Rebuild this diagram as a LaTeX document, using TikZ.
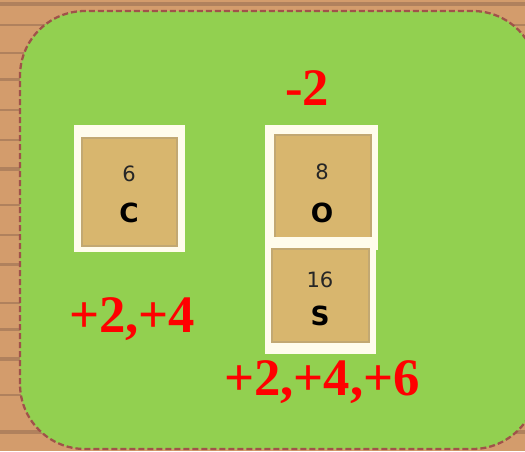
\documentclass[tikz,border=0pt]{standalone}
\usepackage{fontspec}
\setmainfont{Liberation Serif}
\newfontfamily\tilefont{DejaVu Sans}
\usepackage{xcolor}
\usepackage{tikz}
\definecolor{kwood}{HTML}{D39C6C}
\definecolor{kwooddark}{HTML}{9C6234}
\definecolor{kgreen}{HTML}{92D050}
\definecolor{kedge}{HTML}{A0524A}
\definecolor{ktan}{HTML}{D8B66E}
\definecolor{krim}{HTML}{FFFCEC}

\begin{document}
\begin{tikzpicture}[x=1cm, y=1cm,
  charge/.style={font=\fontsize{30}{31}\selectfont\bfseries, text=red, anchor=base, inner sep=0pt},
  znum/.style={font=\tilefont\fontsize{12}{13}\selectfont, text=black!85, inner sep=0pt},
  zsym/.style={font=\tilefont\fontsize{15}{16}\selectfont\bfseries, text=black, inner sep=0pt},
  face/.style={fill=ktan, draw=ktan!75!gray, line width=1pt}]
\useasboundingbox (0,0) rectangle (10.5,9.02);
\begin{scope}
\clip (0,0) rectangle (10.5,9.02);
% wooden table
\fill[kwood] (0,0) rectangle (10.5,9.02);
\foreach \y/\w in {8.90/0.08, 8.50/0.05, 7.95/0.04, 7.40/0.07, 6.80/0.04, 6.20/0.05, 5.60/0.08, 4.90/0.05, 4.30/0.04, 3.70/0.07, 2.95/0.04, 2.40/0.06, 1.80/0.08, 1.10/0.05, 0.35/0.07}
  \fill[kwooddark!80] (0,\y) rectangle (10.5,\y+\w);
% green board
\draw[fill=kgreen, draw=kedge, line width=1.3pt, dash pattern=on 0.12cm off 0.06cm, rounded corners=1.3cm]
  (0.4,0.04) rectangle (10.75,8.8);
\end{scope}
% carbon
\fill[krim] (1.48,3.98) rectangle (3.70,6.52);
\filldraw[face] (1.64,4.10) rectangle (3.54,6.26);
\node[znum] (cnum) at (2.58,5.54) {6};
\node[zsym] (csym) at (2.58,4.76) {C};
% oxygen
\fill[krim] (5.30,4.02) rectangle (7.56,6.52);
\filldraw[face] (5.50,4.22) rectangle (7.42,6.32);
\node[znum] (onum) at (6.44,5.58) {8};
\node[zsym] (osym) at (6.44,4.76) {O};
% sulfur
\fill[krim] (5.30,1.94) rectangle (7.52,4.28);
\filldraw[face] (5.44,2.18) rectangle (7.38,4.04);
\node[znum] (snum) at (6.40,3.42) {16};
\node[zsym] (ssym) at (6.40,2.70) {S};
% oxidation states
\node[charge] (ox) at (6.14,6.92) {-2};
\node[charge] (cox) at (2.64,2.38) {+2,+4};
\node[charge] (sox) at (6.44,1.12) {+2,+4,+6};
\end{tikzpicture}
\end{document}
